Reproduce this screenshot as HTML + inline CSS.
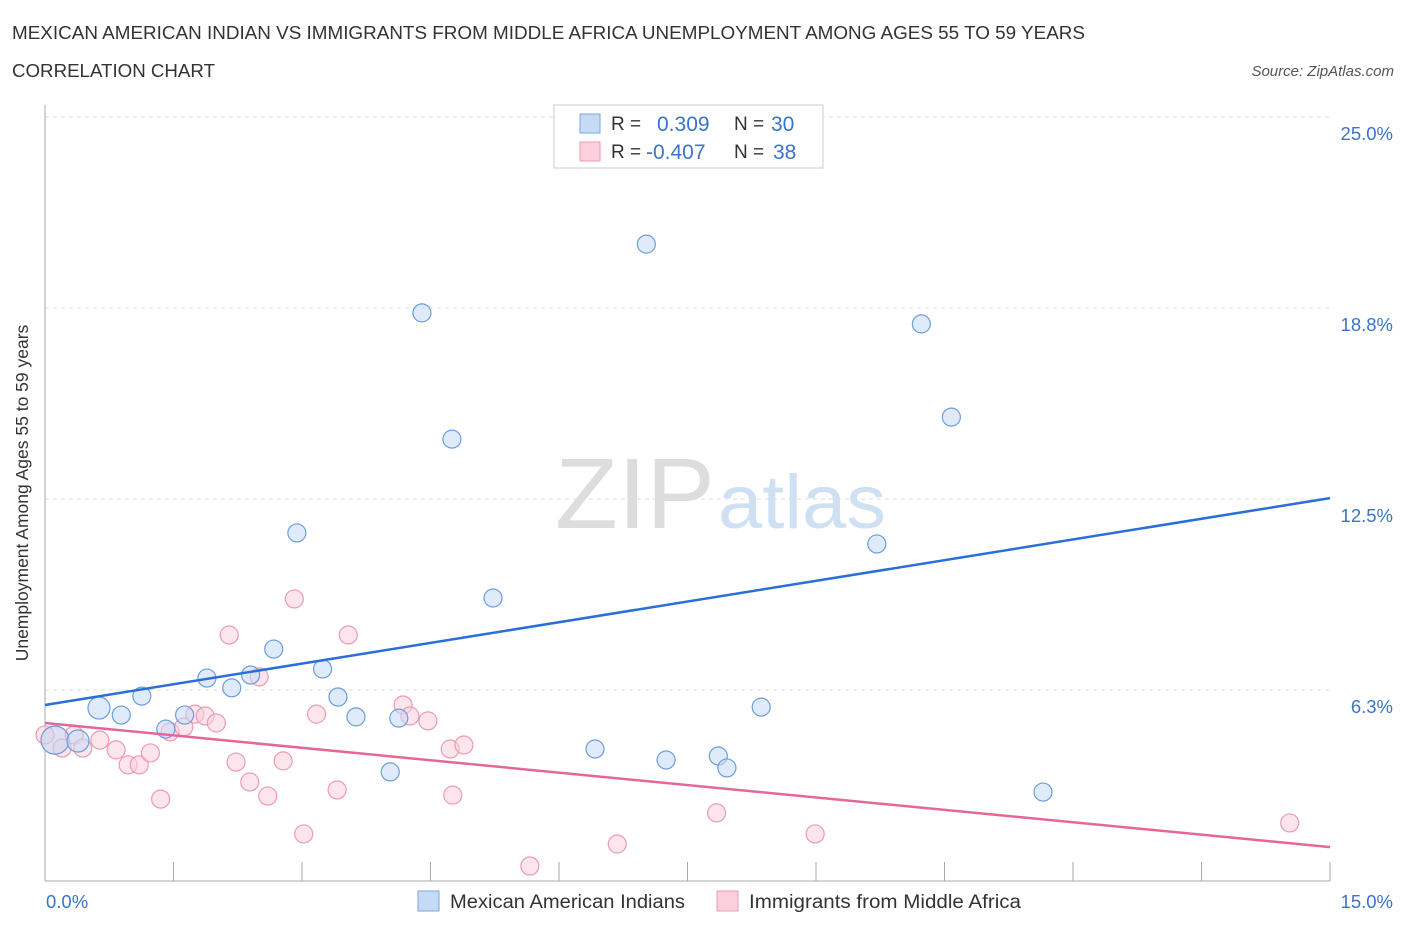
<!DOCTYPE html>
<html><head><meta charset="utf-8"><style>
body{margin:0;background:#fff;font-family:"Liberation Sans",sans-serif;}
svg text{font-family:"Liberation Sans",sans-serif;}
</style></head><body>
<svg width="1406" height="930" xmlns="http://www.w3.org/2000/svg">
<text x="12" y="39" font-size="18.5" fill="#333" textLength="1073" lengthAdjust="spacingAndGlyphs">MEXICAN AMERICAN INDIAN VS IMMIGRANTS FROM MIDDLE AFRICA UNEMPLOYMENT AMONG AGES 55 TO 59 YEARS</text>
<text x="12" y="77" font-size="18.5" fill="#333" textLength="203" lengthAdjust="spacingAndGlyphs">CORRELATION CHART</text>
<text x="1394" y="76" font-size="15" fill="#555" font-style="italic" text-anchor="end">Source: ZipAtlas.com</text>
<text x="555" y="528" font-size="100" fill="#ddd" font-family="Liberation Serif" textLength="160" lengthAdjust="spacingAndGlyphs">ZIP</text>
<text x="718" y="528" font-size="76" fill="#cfe0f3" textLength="168" lengthAdjust="spacingAndGlyphs">atlas</text>
<g id="grid"></g>
<g id="axes"></g>
<g id="marks"></g>
<text x="28" y="493" font-size="17.5" fill="#333" text-anchor="middle" transform="rotate(-90 28 493)">Unemployment Among Ages 55 to 59 years</text>
<text x="46" y="908" font-size="18.5" fill="#3a74c8">0.0%</text>
<text x="1393" y="908" font-size="18.5" fill="#3a74c8" text-anchor="end">15.0%</text>
<g>
<rect x="554" y="105" width="269" height="63" fill="#fff" stroke="#ccc"/>
<rect x="580" y="114" width="20" height="19" fill="#c5daf5" stroke="#7aa6e0"/>
<rect x="580" y="142" width="20" height="19" fill="#fbd0dc" stroke="#ee9ab2"/>
<text x="611" y="130" font-size="19" fill="#333">R = </text><text x="657" y="131" font-size="21" fill="#3a74c8">0.309</text>
<text x="734" y="130" font-size="19" fill="#333">N = </text><text x="771" y="131" font-size="21" fill="#3a74c8">30</text>
<text x="611" y="158" font-size="19" fill="#333">R = </text><text x="646" y="159" font-size="21" fill="#3a74c8">-0.407</text>
<text x="734" y="158" font-size="19" fill="#333">N = </text><text x="773" y="159" font-size="21" fill="#3a74c8">38</text>
</g>
<g>
<rect x="418" y="891" width="21" height="20" fill="#c5daf5" stroke="#7aa6e0"/>
<text x="450" y="908" font-size="19" fill="#333" textLength="235" lengthAdjust="spacingAndGlyphs">Mexican American Indians</text>
<rect x="717" y="891" width="21" height="20" fill="#fbd0dc" stroke="#ee9ab2"/>
<text x="749" y="908" font-size="19" fill="#333" textLength="272" lengthAdjust="spacingAndGlyphs">Immigrants from Middle Africa</text>
</g>
</svg>
<script>
const yTicks=[6.25,12.5,18.75,25];
const yTickLabels=["6.3%","12.5%","18.8%","25.0%"];
const xTicks=[0,1.5,3,4.5,6,7.5,9,10.5,12,13.5,15];
const blueX=[0.117,0.385,0.63,0.89,1.13,1.41,1.63,1.89,2.18,2.40,2.67,2.94,3.24,3.42,3.63,4.03,4.13,4.40,4.75,5.23,6.42,7.02,7.25,7.86,7.96,8.36,9.71,10.23,10.58,11.65];
const blueY=[4.61,4.58,5.66,5.43,6.05,4.97,5.43,6.64,6.32,6.74,7.59,11.39,6.94,6.02,5.37,3.57,5.33,18.59,14.46,9.26,4.32,20.84,3.96,4.09,3.70,5.69,11.03,18.23,15.18,2.91];
const pinkX=[0.117,0.20,0.34,0.44,0.64,0.83,0.97,1.10,1.23,1.35,1.46,1.62,1.75,1.87,2.00,2.15,2.23,2.39,2.50,2.60,2.78,2.91,3.02,3.17,3.41,3.54,4.18,4.26,4.47,4.73,4.76,4.89,5.66,6.68,7.84,8.99,14.53,0.0];
const pinkY=[4.61,4.35,4.78,4.35,4.61,4.29,3.80,3.80,4.19,2.68,4.88,5.04,5.46,5.40,5.17,8.05,3.89,3.24,6.68,2.78,3.93,9.23,1.54,5.46,2.98,8.05,5.76,5.40,5.24,4.32,2.81,4.45,0.49,1.21,2.23,1.54,1.90,4.78];
const blueTrend=[5.76,12.53];
const pinkTrend=[5.17,1.11];
const NS="http://www.w3.org/2000/svg";
const X=v=>45+v*(1285/15);
const Y=v=>881-v*(191/6.25);
function mk(t,a,p){const e=document.createElementNS(NS,t);for(const k in a)e.setAttribute(k,a[k]);p.appendChild(e);return e;}
const grid=document.getElementById('grid'),axes=document.getElementById('axes'),marks=document.getElementById('marks');
yTicks.forEach((v,i)=>{
 const l=mk('line',{x1:45,x2:1330,y1:Y(v),y2:Y(v),stroke:'#ddd','stroke-dasharray':'4 4'},grid);
 
 
 const t=mk('text',{x:1393,y:Y(v)+23,'font-size':18.5,fill:'#3a74c8','text-anchor':'end'},grid);
 t.textContent=yTickLabels[i];
 
 
});
const ya=mk('line',{x1:45,x2:45,y1:105,y2:881,stroke:'#aaa'},axes);


const xa=mk('line',{x1:45,x2:1330,y1:881,y2:881,stroke:'#aaa'},axes);


xTicks.forEach(v=>{
 const l=mk('line',{x1:X(v),x2:X(v),y1:862,y2:881,stroke:'#aaa'},axes);
 
 
});
function pts(xs,ys,fill,stroke,name){
 xs.forEach((x,i)=>{
  const r=i===0?14:(name==='blue-point'&&i<3?11:9);
  const c=mk('circle',{cx:X(x),cy:Y(ys[i]),r:r,fill:fill,'fill-opacity':0.55,stroke:stroke,'stroke-width':1.2},marks);
  
  
 });
}
pts(pinkX,pinkY,'#fbd0dc','#ee9ab2','pink-point');
pts(blueX,blueY,'#c5daf5','#6b9de0','blue-point');
const bt=mk('line',{x1:X(0),x2:X(15),y1:Y(blueTrend[0]),y2:Y(blueTrend[1]),stroke:'#2a6fd6','stroke-width':2.5},marks);


const pt=mk('line',{x1:X(0),x2:X(15),y1:Y(pinkTrend[0]),y2:Y(pinkTrend[1]),stroke:'#e5679a','stroke-width':2.5},marks);


</script>
</body></html>
